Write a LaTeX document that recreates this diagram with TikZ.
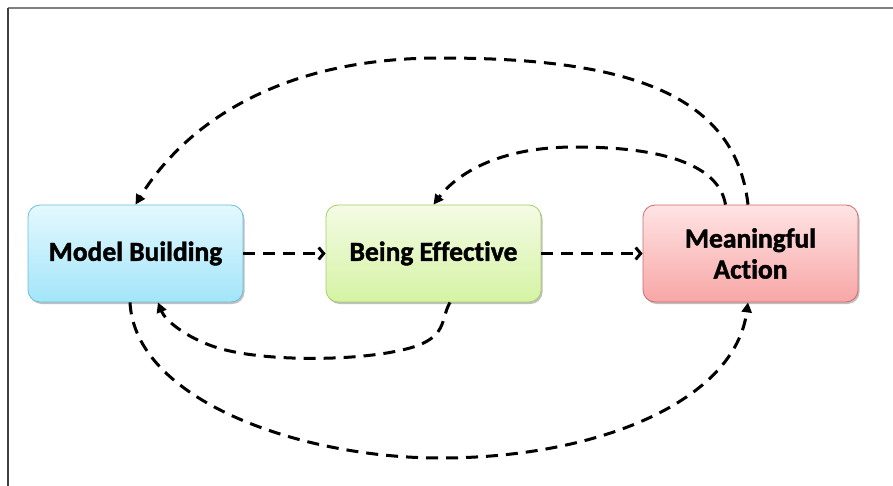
\documentclass[tikz,border=0pt]{standalone}
\usepackage{fontspec}
\setmainfont[Ligatures=NoCommon, BoldFeatures={FakeBold=1.6}]{Carlito}
\usetikzlibrary{arrows.meta,shadows}
\definecolor{mbtop}{HTML}{E4F8FE}
\definecolor{mbbot}{HTML}{A3E5F9}
\definecolor{mbline}{HTML}{6BBFD8}
\definecolor{betop}{HTML}{F4FBE4}
\definecolor{bebot}{HTML}{D5F3A4}
\definecolor{beline}{HTML}{A5CE6A}
\definecolor{matop}{HTML}{FFE4E4}
\definecolor{mabot}{HTML}{F8A6A6}
\definecolor{maline}{HTML}{D46A6A}
\begin{document}
\begin{tikzpicture}[x=1pt,y=-1pt,
  stage/.style={rounded corners=12pt, minimum width=215pt, minimum height=97pt,
    align=center, font=\fontsize{27.5}{31}\selectfont\bfseries, line width=0.8pt,
    drop shadow={shadow xshift=1.5pt, shadow yshift=-2pt, opacity=0.25, fill=black}},
  flow/.style={line width=3pt, dash pattern=on 12pt off 8pt},
  fwd/.style={flow, -{Straight Barb[length=5pt,width=12pt]}},
  back/.style={flow, -{Triangle[length=10pt,width=10pt]}}]
\useasboundingbox (0,0) rectangle (893,486);
% frame
\draw[line width=2pt, black!50] (8,8) -- (893,8);
\draw[line width=1.2pt, black!75] (8,8) -- (8,486);
% stages
\node[stage, draw=mbline, top color=mbtop, bottom color=mbbot] (MB) at (135.5,253.5) {Model Building};
\node[stage, draw=beline, top color=betop, bottom color=bebot] (BE) at (433.5,253.5) {Being Effective};
\node[stage, draw=maline, top color=matop, bottom color=mabot] (MA) at (750.5,253.5) {Meaningful\\Action};
% forward flow
\draw[fwd] (MB.east) -- (BE.west);
\draw[fwd] (BE.east) -- (MA.west);
% feedback loops above
\draw[back] ([xshift=-2.5pt]MA.north) .. controls (735,90) and (620,58) .. (440,58)
  .. controls (260,58) and (175,140) .. (MB.north);
\draw[back] ([xshift=-25pt]MA.north) .. controls (718,160) and (650,147) .. (575,147)
  .. controls (490,147) and (452,180) .. (BE.north);
% feedback loops below
\draw[back] ([xshift=16.5pt]BE.south) .. controls (440,320) and (448,337) .. (410,348)
  .. controls (360,362) and (260,362) .. (215,347)
  .. controls (185,337) and (165,320) .. ([xshift=22.5pt]MB.south);
\draw[back] ([xshift=-5.5pt]MB.south) .. controls (135,400) and (300,458) .. (440,458)
  .. controls (600,458) and (735,400) .. ([xshift=-2.5pt]MA.south);
\end{tikzpicture}
\end{document}
